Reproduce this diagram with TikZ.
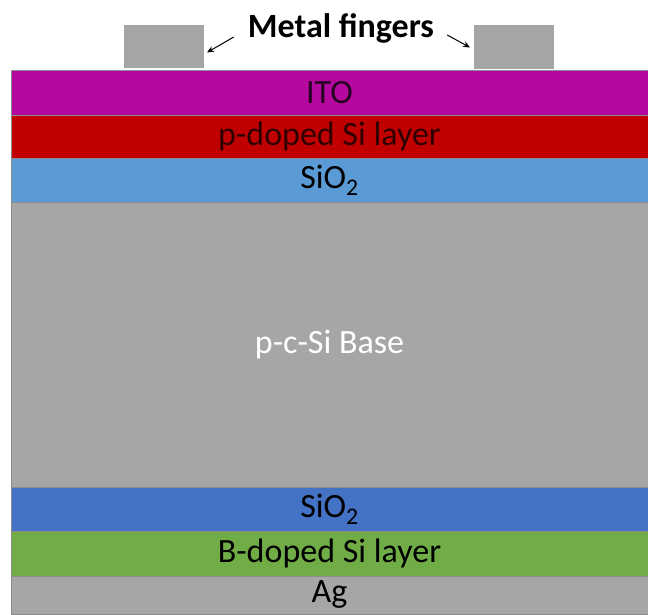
\documentclass[tikz,border=0pt]{standalone}
\usepackage{fontspec}
\setmainfont{Carlito}
\usetikzlibrary{arrows.meta}

\definecolor{itocol}{HTML}{B4089E}
\definecolor{psicol}{HTML}{C00000}
\definecolor{oxtop}{HTML}{5B9BD5}
\definecolor{basecol}{HTML}{A6A6A6}
\definecolor{oxbot}{HTML}{4472C4}
\definecolor{bsicol}{HTML}{70AD47}
\definecolor{fingercol}{HTML}{A5A5A5}

\tikzset{
  layer/.style={rectangle,draw=black!45,line width=0.8pt,minimum width=637pt,
    inner sep=0pt,outer sep=0pt,font=\fontsize{34}{40}\selectfont},
  finger/.style={rectangle,fill=fingercol,inner sep=0pt,outer sep=0pt},
  pointer/.style={-{Stealth[length=7pt,width=6pt]},line width=1pt,black}
}

\begin{document}
\begin{tikzpicture}[x=1pt,y=1pt]
\useasboundingbox (0,0) rectangle (648,614);
\path
(329.5,521.5) node[layer,fill=itocol,minimum height=45pt,text=black!80!itocol](ito) {ITO}
(329.5,477.5) node[layer,fill=psicol,minimum height=43pt,text=black!75!psicol](psi) {p-doped Si layer}
(329.5,434) node[layer,fill=oxtop,minimum height=44pt](oxt) {SiO\textsubscript{2}}
(329.5,269.5) node[layer,fill=basecol,minimum height=285pt,text=white](base) {p-c-Si Base}
(329.5,105) node[layer,fill=oxbot,minimum height=44pt](oxb) {SiO\textsubscript{2}}
(329.5,60.5) node[layer,fill=bsicol,minimum height=45pt](bsi) {B-doped Si layer}
(329.5,19) node[layer,fill=basecol,minimum height=38pt](ag) {Ag}
(164,567.5) node[finger,minimum width=80pt,minimum height=43pt](lf) {}
(513.5,566.5) node[finger,draw=white,line width=1pt,minimum width=81pt,minimum height=45pt](rf) {}
(341,586) node[inner sep=0pt,font=\bfseries\fontsize{34}{40}\selectfont](mf) {Metal fingers};

\draw[pointer] ([shift={(-14pt,-9pt)}]mf.west) -- ([shift={(3pt,-6pt)}]lf.east);
\draw[pointer] ([shift={(13pt,-7pt)}]mf.east) -- ([xshift=-3pt]rf.west);
\end{tikzpicture}
\end{document}
